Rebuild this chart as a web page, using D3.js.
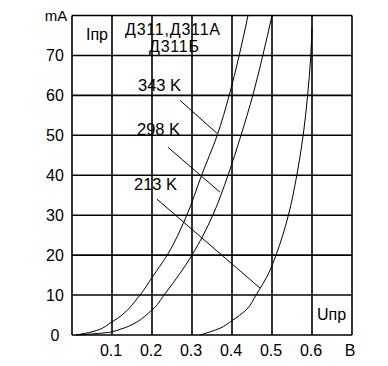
<!DOCTYPE html>
<html>
<head>
<meta charset="utf-8">
<script src="https://d3js.org/d3.v7.min.js"></script>
<style>
body { margin: 0; background: #fff; }
text { font-family: "Liberation Sans", Arial, sans-serif; fill: #000; }
</style>
</head>
<body>
<script>
// forward voltage (V) vs forward current (mA)
var curve_343 = [[0.01,0],[0.05,0.8],[0.1,3.3],[0.17,10],[0.2,14.4],[0.238,20],[0.287,30],[0.324,40],[0.363,50],[0.393,60],[0.418,70],[0.44,80]]
var curve_298 = [[0.01,0],[0.1,0.8],[0.2,6.25],[0.23,10],[0.3,20],[0.352,30],[0.39,40],[0.4225,50],[0.452,60],[0.477,70],[0.5,80]]
var curve_213 = [[0.32,0],[0.37,1.7],[0.4,3.6],[0.435,6.25],[0.46,10],[0.493,15.75],[0.51,20],[0.541,30],[0.562,40],[0.578,50],[0.589,60],[0.597,70],[0.6,77]]
var temp_labels = ['343 K', '298 K', '213 K']
// label anchor and leader line in data units
var label_pos = [[0.165,61],[0.1625,50],[0.155,36.25]]
var leaders = [[[0.27,58.75],[0.3625,50.5]], [[0.24,47],[0.37,35.75]], [[0.2125,34],[0.47,11.75]]]
var x_ticks = [0.1,0.2,0.3,0.4,0.5,0.6]
var y_ticks = [0,10,20,30,40,50,60,70]
var grid_x = [0,0.1,0.2,0.3,0.4,0.5,0.6,0.7]
var grid_y = [0,10,20,30,40,50,60,70,80]

function plot_it() {
    var svgWidth = 388, svgHeight = 366
    var svg = d3.select('body').append('svg').attr('width', svgWidth).attr('height', svgHeight).attr('id', 'svg0')

    var sx = d3.scaleLinear().domain([0, 0.7]).range([72, 352])
    var sy = d3.scaleLinear().domain([0, 80]).range([335, 15.5])

    // grid
    var grid = svg.append('g').attr('stroke', '#000').attr('stroke-width', 1.6)
    grid.selectAll('.gx').data(grid_x).enter().append('line')
        .attr('x1', d => sx(d)).attr('x2', d => sx(d)).attr('y1', sy(0)).attr('y2', sy(80))
    grid.selectAll('.gy').data(grid_y).enter().append('line')
        .attr('x1', sx(0)).attr('x2', sx(0.7)).attr('y1', d => sy(d)).attr('y2', d => sy(d))

    // tick labels
    svg.selectAll('.xt').data(x_ticks).enter().append('text')
        .attr('x', d => sx(d) - 1).attr('y', 355.5).attr('text-anchor', 'middle')
        .attr('font-size', '16px').text(d => d)
    svg.selectAll('.yt').data(y_ticks).enter().append('text')
        .attr('x', 55).attr('y', d => sy(d) + 6).attr('text-anchor', 'middle')
        .attr('font-size', '16px').text(d => d)

    svg.append('text').attr('x', 56).attr('y', 21).attr('text-anchor', 'middle').attr('font-size', '15px').text('mA')
    svg.append('text').attr('x', 350).attr('y', 355.5).attr('text-anchor', 'middle').attr('font-size', '16px').text('B')
    svg.append('text').attr('x', 317).attr('y', 320).attr('font-size', '16px').text('Uпр')
    svg.append('text').attr('x', 86).attr('y', 40).attr('font-size', '16px').text('Iпр')
    svg.append('text').attr('x', 125).attr('y', 34.5).attr('font-size', '16px').attr('letter-spacing', '0.8px').text('Д311,Д311А')
    svg.append('text').attr('x', 149).attr('y', 52).attr('font-size', '16px').attr('letter-spacing', '0.8px').text('Д311Б')

    // curves, points ordered top-down so the monotone spline follows the screen y
    var line0 = d3.line().x(d => sx(d[0])).y(d => sy(d[1])).curve(d3.curveMonotoneY)
    svg.selectAll('.curve').data([curve_343, curve_298, curve_213]).enter().append('path')
        .attr('fill', 'none').attr('stroke', '#000').attr('stroke-width', 1)
        .attr('d', d => line0(d.slice().reverse()))

    // leaders + temperature labels
    svg.selectAll('.leader').data(leaders).enter().append('line')
        .attr('stroke', '#000').attr('stroke-width', 1)
        .attr('x1', d => sx(d[0][0])).attr('y1', d => sy(d[0][1]))
        .attr('x2', d => sx(d[1][0])).attr('y2', d => sy(d[1][1]))
    svg.selectAll('.tl').data(temp_labels).enter().append('text')
        .attr('x', (d, i) => sx(label_pos[i][0])).attr('y', (d, i) => sy(label_pos[i][1]))
        .attr('font-size', '16.5px').text(d => d)
}
plot_it()
</script>
</body>
</html>
